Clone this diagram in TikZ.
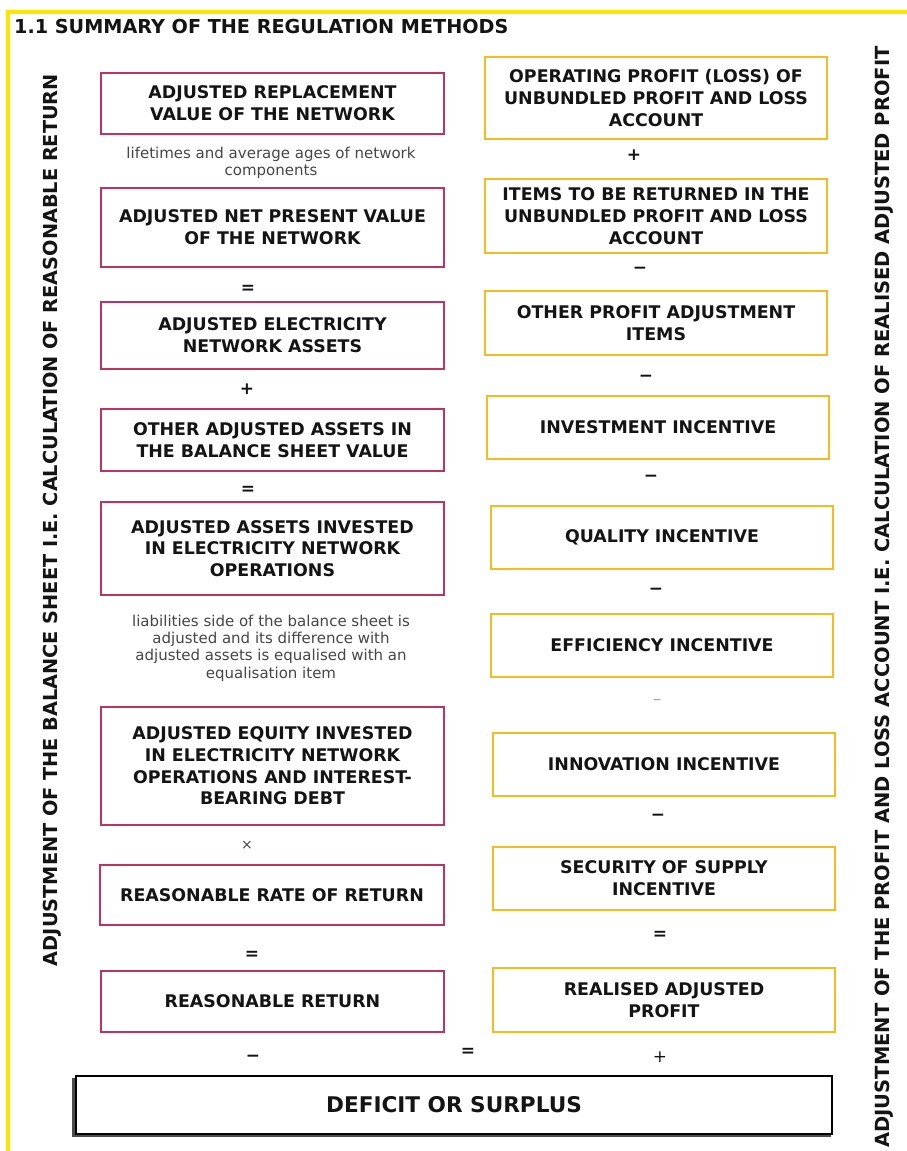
\documentclass[tikz,border=0pt]{standalone}
\usepackage{fontspec}
\setmainfont{DejaVu Sans}
\definecolor{mag}{RGB}{192,50,95}
\definecolor{gold}{RGB}{244,188,30}
\definecolor{frameyel}{RGB}{255,228,0}
\definecolor{txt}{RGB}{20,20,20}
\definecolor{note}{RGB}{70,70,70}
\tikzset{
  boxbase/.style={line width=2.6pt, fill=white, inner sep=0pt, align=center,
    font=\bfseries\fontsize{17.4}{21.7}\selectfont, text=txt},
  lbox/.style={boxbase, draw=mag},
  rbox/.style={boxbase, draw=gold},
  opsym/.style={font=\bfseries\fontsize{17}{17}\selectfont, text=txt, inner sep=0pt},
  lightop/.style={font=\fontsize{14}{14}\selectfont, text=note, inner sep=0pt},
  notetext/.style={font=\fontsize{15}{17.3}\selectfont, text=note, align=center, inner sep=0pt},
  sidelabel/.style={font=\bfseries\fontsize{19.3}{20}\selectfont, rotate=90, text=txt, inner sep=0pt},
}
\begin{document}
\begin{tikzpicture}[x=1pt,y=-1pt]
\useasboundingbox (0,0) rectangle (907,1151);
\fill[white] (0,0) rectangle (907,1151);
% frame
\draw[frameyel, line width=3.2pt] (8,1151) -- (8,12) -- (907,12);
% header
\node[anchor=west, font=\bfseries\fontsize{19.2}{20}\selectfont, text=txt, inner sep=0pt] (title) at (14,27) {1.1 SUMMARY OF THE REGULATION METHODS};
% side labels
\node[sidelabel] (lside) at (52,520) {ADJUSTMENT OF THE BALANCE SHEET I.E. CALCULATION OF REASONABLE RETURN};
\node[sidelabel, font=\bfseries\fontsize{19.5}{20}\selectfont] (rside) at (884,597) {ADJUSTMENT OF THE PROFIT AND LOSS ACCOUNT I.E. CALCULATION OF REALISED ADJUSTED PROFIT};
% left column
\node[lbox, minimum width=343pt, minimum height=61pt] (arv) at (272.5,103.5) {ADJUSTED REPLACEMENT\\VALUE OF THE NETWORK};
\node[notetext] (n1) at (271,163) {lifetimes and average ages of network\\components};
\node[lbox, minimum width=343pt, minimum height=79pt] (anpv) at (272.5,227.5) {ADJUSTED NET PRESENT VALUE\\OF THE NETWORK};
\node[opsym] (o1) at (248,289) {=};
\node[lbox, minimum width=343pt, minimum height=67pt] (aena) at (272.5,335.5) {ADJUSTED ELECTRICITY\\NETWORK ASSETS};
\node[opsym] (o2) at (247,389) {+};
\node[lbox, minimum width=343pt, minimum height=62pt] (oaa) at (272.5,440) {OTHER ADJUSTED ASSETS IN\\THE BALANCE SHEET VALUE};
\node[opsym] (o3) at (248,490) {=};
\node[lbox, minimum width=343pt, minimum height=93pt] (aai) at (272.5,548.5) {ADJUSTED ASSETS INVESTED\\IN ELECTRICITY NETWORK\\OPERATIONS};
\node[notetext] (n2) at (271,648) {liabilities side of the balance sheet is\\adjusted and its difference with\\adjusted assets is equalised with an\\equalisation item};
\node[lbox, minimum width=343pt, minimum height=118pt] (aei) at (272.5,766) {ADJUSTED EQUITY INVESTED\\IN ELECTRICITY NETWORK\\OPERATIONS AND INTEREST-\\BEARING DEBT};
\node[lightop] (o4) at (247,845) {×};
\node[lbox, minimum width=344pt, minimum height=60pt] (rrr) at (272,895) {REASONABLE RATE OF RETURN};
\node[opsym] (o5) at (252,955) {=};
\node[lbox, minimum width=343pt, minimum height=61pt] (rr) at (272.5,1001.5) {REASONABLE RETURN};
% right column
\node[rbox, minimum width=342pt, minimum height=82pt] (op) at (656,98) {OPERATING PROFIT (LOSS) OF\\UNBUNDLED PROFIT AND LOSS\\ACCOUNT};
\node[opsym] (p1) at (634,155) {+};
\node[rbox, minimum width=342pt, minimum height=74pt] (itbr) at (656,216) {ITEMS TO BE RETURNED IN THE\\UNBUNDLED PROFIT AND LOSS\\ACCOUNT};
\node[opsym] (p2) at (640,270) {−};
\node[rbox, minimum width=342pt, minimum height=64pt] (opai) at (656,323) {OTHER PROFIT ADJUSTMENT\\ITEMS};
\node[opsym] (p3) at (646,378) {−};
\node[rbox, minimum width=342pt, minimum height=63pt] (ii) at (658,427.5) {INVESTMENT INCENTIVE};
\node[opsym] (p4) at (651,478) {−};
\node[rbox, minimum width=342pt, minimum height=63pt] (qi) at (662,537.5) {QUALITY INCENTIVE};
\node[opsym] (p5) at (656,591) {−};
\node[rbox, minimum width=342pt, minimum height=63pt] (ei) at (662,645.5) {EFFICIENCY INCENTIVE};
\node[font=\fontsize{16}{16}\selectfont, text=gray!75, inner sep=0pt] (p6) at (657,702) {–};
\node[rbox, minimum width=342pt, minimum height=63pt] (inn) at (664,764.5) {INNOVATION INCENTIVE};
\node[opsym] (p7) at (658,817) {−};
\node[rbox, minimum width=342pt, minimum height=63pt] (ssi) at (664,878.5) {SECURITY OF SUPPLY\\INCENTIVE};
\node[opsym] (p8) at (660,935) {=};
\node[rbox, minimum width=342pt, minimum height=64pt] (rap) at (664,1000) {REALISED ADJUSTED\\PROFIT};
% bottom
\node[opsym] (b1) at (253,1058) {−};
\node[opsym] (b2) at (468,1052) {=};
\node[font=\fontsize{17}{17}\selectfont, text=txt, inner sep=0pt] (b3) at (660,1057) {+};
\fill[black!70] (72,1078) rectangle (831,1137);
\node[draw=black, line width=2pt, fill=white, minimum width=756pt, minimum height=58pt, inner sep=0pt,
  font=\bfseries\fontsize{21.6}{22}\selectfont, text=txt] (dos) at (454,1105) {DEFICIT OR SURPLUS};
\end{tikzpicture}
\end{document}
